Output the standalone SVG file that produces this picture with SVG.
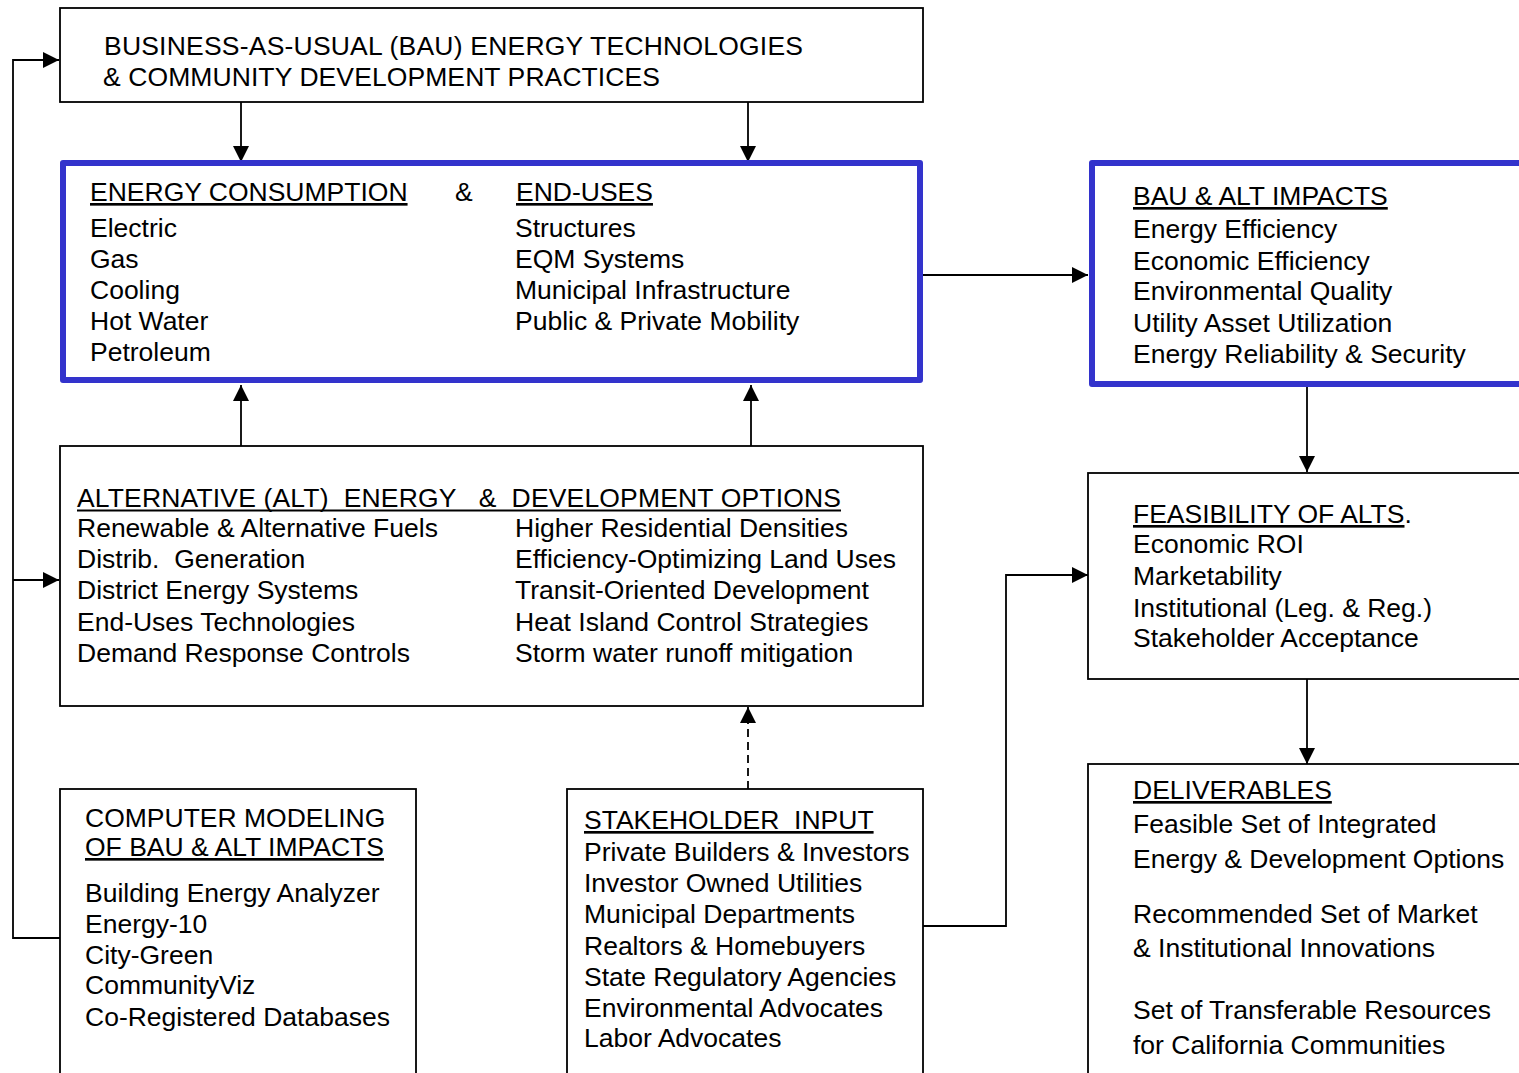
<svg xmlns="http://www.w3.org/2000/svg" width="1519" height="1073" viewBox="0 0 1519 1073">
<style>
text{font-family:"Liberation Sans",Arial,sans-serif;font-size:26.5px;fill:#000;white-space:pre}
.u{text-decoration:underline}
.box{fill:#fff;stroke:#000;stroke-width:1.8}
.blue{fill:#fff;stroke:#3333CC;stroke-width:6;stroke-linejoin:round}
.con{fill:none;stroke:#000;stroke-width:1.8}
.dash{stroke-dasharray:8,5}
.ul{stroke:#000;stroke-width:2}
</style>
<defs>
<marker id="ah" markerUnits="userSpaceOnUse" markerWidth="18" markerHeight="18" refX="16" refY="8" orient="auto">
<path d="M0,0 L16,8 L0,16 z" fill="#000"/>
</marker>
</defs>
<rect width="1519" height="1073" fill="#fff"/>

<g id="connectors">
<line class="con" x1="241" y1="102" x2="241" y2="162" marker-end="url(#ah)"/>
<line class="con" x1="748" y1="102" x2="748" y2="162" marker-end="url(#ah)"/>
<line class="con" x1="241" y1="446" x2="241" y2="385" marker-end="url(#ah)"/>
<line class="con" x1="751" y1="446" x2="751" y2="385" marker-end="url(#ah)"/>
<line class="con" x1="922" y1="275" x2="1088" y2="275" marker-end="url(#ah)"/>
<line class="con" x1="1307" y1="387" x2="1307" y2="472" marker-end="url(#ah)"/>
<line class="con" x1="1307" y1="679" x2="1307" y2="764" marker-end="url(#ah)"/>
<line class="con dash" x1="748" y1="789" x2="748" y2="707" marker-end="url(#ah)"/>
<polyline class="con" points="923,926 1006,926 1006,575 1088,575" marker-end="url(#ah)"/>
<polyline class="con" points="60,938 13,938 13,60 59,60" marker-end="url(#ah)"/>
<line class="con" x1="13" y1="580" x2="59" y2="580" marker-end="url(#ah)"/>
</g>

<g id="bau">
<rect class="box" x="60" y="8" width="863" height="94"/>
<text x="104" y="55" textLength="699" lengthAdjust="spacing">BUSINESS-AS-USUAL (BAU) ENERGY TECHNOLOGIES</text>
<text x="103" y="86" textLength="557" lengthAdjust="spacing">&amp; COMMUNITY DEVELOPMENT PRACTICES</text>
</g>

<g id="consumption">
<rect class="blue" x="63" y="163" width="857" height="217"/>
<text x="90" y="201" class="u">ENERGY CONSUMPTION</text>
<text x="455" y="201">&amp;</text>
<text x="516" y="201" class="u">END-USES</text>
<text x="90" y="237">Electric</text>
<text x="90" y="268">Gas</text>
<text x="90" y="299">Cooling</text>
<text x="90" y="330">Hot Water</text>
<text x="90" y="361">Petroleum</text>
<text x="515" y="237">Structures</text>
<text x="515" y="268">EQM Systems</text>
<text x="515" y="299">Municipal Infrastructure</text>
<text x="515" y="330">Public &amp; Private Mobility</text>
</g>

<g id="impacts">
<rect class="blue" x="1092" y="163" width="440" height="221"/>
<text x="1133" y="205" class="u">BAU &amp; ALT IMPACTS</text>
<text x="1133" y="238">Energy Efficiency</text>
<text x="1133" y="270">Economic Efficiency</text>
<text x="1133" y="300">Environmental Quality</text>
<text x="1133" y="332">Utility Asset Utilization</text>
<text x="1133" y="363">Energy Reliability &amp; Security</text>
</g>

<g id="alternatives">
<rect class="box" x="60" y="446" width="863" height="260"/>
<text x="77" y="507" textLength="764" lengthAdjust="spacing">ALTERNATIVE (ALT)  ENERGY   &amp;  DEVELOPMENT OPTIONS</text>
<line class="ul" x1="77" y1="510.5" x2="841" y2="510.5"/>
<text x="77" y="537">Renewable &amp; Alternative Fuels</text>
<text x="77" y="568">Distrib.  Generation</text>
<text x="77" y="599">District Energy Systems</text>
<text x="77" y="631">End-Uses Technologies</text>
<text x="77" y="662">Demand Response Controls</text>
<text x="515" y="537">Higher Residential Densities</text>
<text x="515" y="568">Efficiency-Optimizing Land Uses</text>
<text x="515" y="599">Transit-Oriented Development</text>
<text x="515" y="631">Heat Island Control Strategies</text>
<text x="515" y="662">Storm water runoff mitigation</text>
</g>

<g id="feasibility">
<rect class="box" x="1088" y="473" width="445" height="206"/>
<text x="1133" y="523"><tspan class="u">FEASIBILITY OF ALTS</tspan>.</text>
<text x="1133" y="553">Economic ROI</text>
<text x="1133" y="585">Marketability</text>
<text x="1133" y="617">Institutional (Leg. &amp; Reg.)</text>
<text x="1133" y="647">Stakeholder Acceptance</text>
</g>

<g id="deliverables">
<rect class="box" x="1088" y="764" width="445" height="320"/>
<text x="1133" y="799" class="u">DELIVERABLES</text>
<text x="1133" y="833">Feasible Set of Integrated</text>
<text x="1133" y="868">Energy &amp; Development Options</text>
<text x="1133" y="923">Recommended Set of Market</text>
<text x="1133" y="957">&amp; Institutional Innovations</text>
<text x="1133" y="1019">Set of Transferable Resources</text>
<text x="1133" y="1054">for California Communities</text>
</g>

<g id="modeling">
<rect class="box" x="60" y="789" width="356" height="300"/>
<text x="85" y="827">COMPUTER MODELING</text>
<text x="85" y="856" class="u">OF BAU &amp; ALT IMPACTS</text>
<text x="85" y="902">Building Energy Analyzer</text>
<text x="85" y="933">Energy-10</text>
<text x="85" y="964">City-Green</text>
<text x="85" y="994">CommunityViz</text>
<text x="85" y="1026">Co-Registered Databases</text>
</g>

<g id="stakeholder">
<rect class="box" x="567" y="789" width="356" height="300"/>
<text x="584" y="829" class="u">STAKEHOLDER  INPUT</text>
<text x="584" y="861">Private Builders &amp; Investors</text>
<text x="584" y="892">Investor Owned Utilities</text>
<text x="584" y="923">Municipal Departments</text>
<text x="584" y="955">Realtors &amp; Homebuyers</text>
<text x="584" y="986">State Regulatory Agencies</text>
<text x="584" y="1017">Environmental Advocates</text>
<text x="584" y="1047">Labor Advocates</text>
</g>
</svg>
